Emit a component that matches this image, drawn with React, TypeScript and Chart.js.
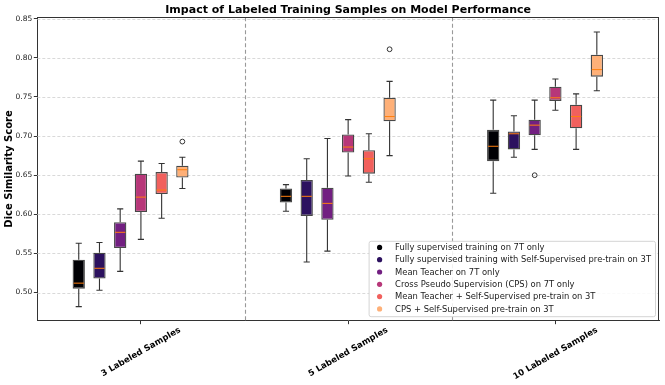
import React, { useEffect, useRef } from "react";
import { Chart, registerables } from "chart.js";

Chart.register(...registerables);

const categories = ["3 Labeled Samples", "5 Labeled Samples", "10 Labeled Samples"];

const seriesNames = [
  "Fully supervised training on 7T only",
  "Fully supervised training with Self-Supervised pre-train on 3T",
  "Mean Teacher on 7T only",
  "Cross Pseudo Supervision (CPS) on 7T only",
  "Mean Teacher + Self-Supervised pre-train on 3T",
  "CPS + Self-Supervised pre-train on 3T",
];

const seriesColors = ["#000004", "#2c115f", "#721f81", "#b73779", "#f1605d", "#feb078"];

// per category: [lower whisker, Q1, median, Q3, upper whisker]
const fullySup7T = [
  [0.482, 0.505, 0.512, 0.542, 0.563],
  [0.604, 0.615, 0.623, 0.633, 0.638],
  [0.627, 0.668, 0.687, 0.708, 0.746],
];
const fullySupSSL3T = [
  [0.503, 0.518, 0.531, 0.551, 0.564],
  [0.539, 0.598, 0.623, 0.644, 0.671],
  [0.673, 0.683, 0.703, 0.706, 0.726],
];
const meanTeacher7T = [
  [0.527, 0.557, 0.577, 0.590, 0.607],
  [0.553, 0.593, 0.614, 0.634, 0.697],
  [0.683, 0.701, 0.714, 0.721, 0.746],
];
const cps7T = [
  [0.568, 0.603, 0.622, 0.652, 0.668],
  [0.649, 0.679, 0.686, 0.702, 0.721],
  [0.733, 0.745, 0.749, 0.763, 0.773],
];
const meanTeacherSSL3T = [
  [0.595, 0.626, 0.631, 0.654, 0.665],
  [0.641, 0.652, 0.671, 0.682, 0.703],
  [0.683, 0.710, 0.725, 0.740, 0.754],
];
const cpsSSL3T = [
  [0.633, 0.647, 0.657, 0.662, 0.673],
  [0.675, 0.719, 0.725, 0.749, 0.770],
  [0.758, 0.776, 0.785, 0.804, 0.833],
];

// outliers per category
const fullySup7TOut: number[][] = [[], [], []];
const fullySupSSL3TOut: number[][] = [[], [], []];
const meanTeacher7TOut: number[][] = [[], [], [0.650]];
const cps7TOut: number[][] = [[], [], []];
const meanTeacherSSL3TOut: number[][] = [[], [], []];
const cpsSSL3TOut: number[][] = [[0.693], [0.811], []];

const allStats = [fullySup7T, fullySupSSL3T, meanTeacher7T, cps7T, meanTeacherSSL3T, cpsSSL3T];
const allOutliers = [fullySup7TOut, fullySupSSL3TOut, meanTeacher7TOut, cps7TOut, meanTeacherSSL3TOut, cpsSSL3TOut];

const yTicks = [0.5, 0.55, 0.6, 0.65, 0.7, 0.75, 0.8, 0.85];
const yMin = 0.464;
const yMax = 0.852;

const FONT = "'DejaVu Sans', sans-serif";

const boxPlugin = {
  id: "boxDecor",
  beforeDatasetsDraw(chart: any) {
    const { ctx, chartArea: a, scales } = chart;
    const x = scales.x;
    const y = scales.y;
    ctx.save();
    ctx.strokeStyle = "#cfcfcf";
    ctx.lineWidth = 0.8;
    ctx.setLineDash([3, 2]);
    y.ticks.forEach((t: any) => {
      const py = Math.round(y.getPixelForValue(t.value)) + 0.5;
      ctx.beginPath();
      ctx.moveTo(a.left, py);
      ctx.lineTo(a.right, py);
      ctx.stroke();
    });
    ctx.strokeStyle = "#999999";
    ctx.lineWidth = 1.1;
    ctx.setLineDash([4, 2.5]);
    for (let i = 0; i < categories.length - 1; i++) {
      const px = Math.round((x.getPixelForValue(i) + x.getPixelForValue(i + 1)) / 2) + 0.5;
      ctx.beginPath();
      ctx.moveTo(px, a.top);
      ctx.lineTo(px, a.bottom);
      ctx.stroke();
    }
    ctx.restore();
  },
  afterDatasetsDraw(chart: any) {
    const { ctx, scales } = chart;
    const y = scales.y;
    ctx.save();
    allStats.forEach((stats, s) => {
      const meta = chart.getDatasetMeta(s);
      stats.forEach((st, j) => {
        const bar = meta.data[j];
        if (!bar) return;
        const cx = bar.x;
        const w = bar.width;
        const [lo, q1, med, q3, hi] = st.map((v) => y.getPixelForValue(v));
        ctx.strokeStyle = "#333333";
        ctx.lineWidth = 1.1;
        ctx.setLineDash([]);
        ctx.beginPath();
        ctx.moveTo(cx, q3);
        ctx.lineTo(cx, hi);
        ctx.moveTo(cx, q1);
        ctx.lineTo(cx, lo);
        ctx.moveTo(cx - w / 4, hi);
        ctx.lineTo(cx + w / 4, hi);
        ctx.moveTo(cx - w / 4, lo);
        ctx.lineTo(cx + w / 4, lo);
        ctx.stroke();
        ctx.strokeStyle = "#ff7f0e";
        ctx.lineWidth = 1;
        ctx.beginPath();
        ctx.moveTo(cx - w / 2 + 1, med);
        ctx.lineTo(cx + w / 2 - 1, med);
        ctx.stroke();
        ctx.strokeStyle = "#333333";
        ctx.lineWidth = 1;
        allOutliers[s][j].forEach((v) => {
          ctx.beginPath();
          ctx.arc(cx, y.getPixelForValue(v), 2.4, 0, Math.PI * 2);
          ctx.stroke();
        });
      });
    });
    ctx.restore();
  },
  afterDraw(chart: any) {
    const { ctx, chartArea: a, scales } = chart;
    const x = scales.x;
    ctx.save();
    // top and right spines
    ctx.strokeStyle = "#333333";
    ctx.lineWidth = 1;
    ctx.beginPath();
    ctx.moveTo(a.left, Math.round(a.top) + 0.5);
    ctx.lineTo(a.right, Math.round(a.top) + 0.5);
    ctx.moveTo(Math.round(a.right) - 0.5, a.top);
    ctx.lineTo(Math.round(a.right) - 0.5, a.bottom);
    ctx.stroke();

    // rotated category labels
    ctx.font = `bold 8.5px ${FONT}`;
    ctx.fillStyle = "#000000";
    ctx.textAlign = "center";
    ctx.textBaseline = "middle";
    const ang = (30 * Math.PI) / 180;
    categories.forEach((lab, i) => {
      const px = x.getPixelForValue(i);
      const tw = ctx.measureText(lab).width;
      const hh = tw * Math.sin(ang) + 10 * Math.cos(ang);
      const cy = a.bottom + 4.5 + hh / 2;
      ctx.save();
      ctx.translate(px, cy);
      ctx.rotate(-ang);
      ctx.fillText(lab, 0, 0);
      ctx.restore();
    });

    // legend
    ctx.font = `8.4px ${FONT}`;
    let maxW = 0;
    seriesNames.forEach((n) => (maxW = Math.max(maxW, ctx.measureText(n).width)));
    const rowH = 12.3;
    const boxW = 26.5 + maxW + 4;
    const boxH = 6.6 + rowH * (seriesNames.length - 1) + 7.3;
    const bx = a.right - 4 - boxW;
    const by = a.bottom - 4.5 - boxH;
    ctx.beginPath();
    if ((ctx as any).roundRect) (ctx as any).roundRect(bx + 0.5, by + 0.5, boxW, boxH, 2);
    else ctx.rect(bx + 0.5, by + 0.5, boxW, boxH);
    ctx.fillStyle = "rgba(255,255,255,0.85)";
    ctx.fill();
    ctx.strokeStyle = "#d4d4d4";
    ctx.lineWidth = 1;
    ctx.stroke();
    ctx.textAlign = "left";
    ctx.textBaseline = "middle";
    seriesNames.forEach((n, i) => {
      const ry = by + 6.6 + i * rowH;
      ctx.fillStyle = seriesColors[i];
      ctx.beginPath();
      ctx.arc(bx + 11, ry, 2.6, 0, Math.PI * 2);
      ctx.fill();
      ctx.fillStyle = "#1a1a1a";
      ctx.fillText(n, bx + 26.5, ry + 0.5);
    });
    ctx.restore();
  },
};

export default function App() {
  const ref = useRef<HTMLCanvasElement | null>(null);
  useEffect(() => {
    if (!ref.current) return;
    const datasets: any[] = allStats.map((stats, s) => ({
      label: seriesNames[s],
      data: stats.map((st) => [st[1], st[3]]),
      backgroundColor: seriesColors[s],
      borderColor: "rgba(40,40,40,0.85)",
      borderWidth: 1.3,
      borderSkipped: false,
    }));
    // empty slot so the six boxes sit at offsets -0.3 .. +0.2 of each category
    datasets.push({ label: "", data: categories.map(() => null), backgroundColor: "transparent" });
    const chart = new Chart(ref.current, {
      type: "bar",
      data: { labels: categories, datasets },
      options: {
        animation: false,
        responsive: false,
        devicePixelRatio: 1,
        datasets: { bar: { categoryPercentage: 0.7, barPercentage: 0.594 } },
        layout: { padding: { left: 0, right: 6, top: 0, bottom: 0 } },
        plugins: {
          legend: { display: false },
          tooltip: { enabled: false },
          title: {
            display: true,
            text: "Impact of Labeled Training Samples on Model Performance",
            fullSize: false,
            color: "#000000",
            font: { family: FONT, size: 11, weight: "bold", lineHeight: 1.2 },
            padding: { top: 4, bottom: 0 },
          },
        },
        scales: {
          x: {
            type: "category",
            offset: true,
            grid: { display: true, drawOnChartArea: false, offset: false, tickLength: 3.5, tickColor: "#333333", tickWidth: 1 },
            border: { display: true, color: "#333333", width: 1 },
            ticks: { display: false },
            afterFit: (s: any) => {
              s.height = 64.3;
            },
          },
          y: {
            min: yMin,
            max: yMax,
            afterBuildTicks: (s: any) => {
              s.ticks = yTicks.map((v) => ({ value: v }));
            },
            grid: { display: true, drawOnChartArea: false, tickLength: 3.5, tickColor: "#333333", tickWidth: 1 },
            border: { display: true, color: "#333333", width: 1 },
            ticks: {
              padding: 1.5,
              color: "#222222",
              font: { family: FONT, size: 7.5 },
              callback: (v: any) => Number(v).toFixed(2),
            },
            title: {
              display: true,
              text: "Dice Similarity Score",
              color: "#000000",
              font: { family: FONT, size: 10, weight: "bold" },
              padding: { top: 3, bottom: 0 },
            },
            afterFit: (s: any) => {
              s.width = 37.3;
            },
          },
        },
      },
      plugins: [boxPlugin],
    } as any);
    return () => chart.destroy();
  }, []);
  return (
    <div style={{ position: "fixed", left: 0, top: 0, width: 665, height: 385, background: "#ffffff" }}>
      <canvas ref={ref} width={665} height={385} style={{ display: "block" }} />
    </div>
  );
}
